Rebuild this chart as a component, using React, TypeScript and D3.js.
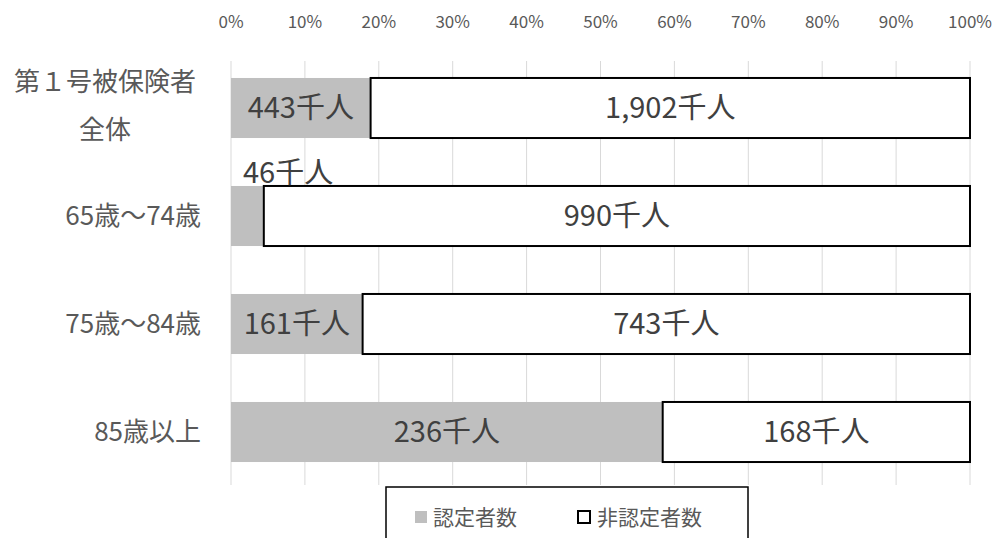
import * as d3 from "d3";

const categories = ["第１号被保険者\n全体", "65歳～74歳", "75歳～84歳", "85歳以上"];
const certified = [443, 46, 161, 236];
const nonCertified = [1902, 990, 743, 168];
const ticks = [0, 0.1, 0.2, 0.3, 0.4, 0.5, 0.6, 0.7, 0.8, 0.9, 1];
const seriesNames = ["認定者数", "非認定者数"];

const FONT = "'Noto Sans CJK JP', 'Noto Sans', sans-serif";

export default function App() {
  const width = 999,
    height = 538;

  const x = d3.scaleLinear().domain([0, 1]).range([231, 970]);
  const y = d3
    .scaleBand<string>()
    .domain(categories)
    .range([54, 486])
    .paddingInner(0.444)
    .paddingOuter(0.222);

  const fmt = d3.format(",");
  const rows = categories.map((c, i) => {
    const total = certified[i] + nonCertified[i];
    return { c, a: certified[i], b: nonCertified[i], share: certified[i] / total };
  });

  return (
    <svg
      width={width}
      height={height}
      style={{ position: "absolute", left: 0, top: 0, background: "#fff" }}
      fontFamily={FONT}
    >
      {/* grid + top tick labels */}
      {ticks.map((t) => (
        <g key={t}>
          <line x1={x(t)} x2={x(t)} y1={61} y2={485} stroke="#d9d9d9" strokeWidth={1} />
          <text x={x(t)} y={22} dy="0.36em" textAnchor="middle" fontSize={17} fill="#595959">
            {d3.format(".0%")(t)}
          </text>
        </g>
      ))}

      {rows.map((r, i) => {
        const y0 = y(r.c)!;
        const bh = y.bandwidth();
        const xm = x(r.share);
        const small = xm - x(0) < 60;
        return (
          <g key={r.c}>
            <rect x={x(0)} y={y0} width={xm - x(0)} height={bh} fill="#bfbfbf" />
            <rect
              x={xm}
              y={y0}
              width={x(1) - xm}
              height={bh}
              fill="#fff"
              stroke="#000"
              strokeWidth={2}
            />
            {small ? (
              <text x={x(0) + 12} y={y0 - 3} fontSize={29} fill="#404040">
                {fmt(r.a)}千人
              </text>
            ) : (
              <text
                x={(x(0) + xm) / 2}
                y={y0 + bh / 2}
                dy="0.36em"
                textAnchor="middle"
                fontSize={29}
                fill="#404040"
              >
                {fmt(r.a)}千人
              </text>
            )}
            <text
              x={(xm + x(1)) / 2}
              y={y0 + bh / 2}
              dy="0.36em"
              textAnchor="middle"
              fontSize={29}
              fill="#404040"
            >
              {fmt(r.b)}千人
            </text>
            {r.c.includes("\n") ? (
              <text fontSize={26} fill="#595959" textAnchor="middle">
                {r.c.split("\n").map((line, k) => (
                  <tspan key={k} x={105} y={y0 + 13 + k * 48}>
                    {line}
                  </tspan>
                ))}
              </text>
            ) : (
              <text
                x={201}
                y={y0 + bh / 2}
                dy="0.36em"
                textAnchor="end"
                fontSize={26}
                fill="#595959"
              >
                {r.c}
              </text>
            )}
          </g>
        );
      })}

      {/* legend */}
      <rect x={386} y={487} width={362} height={60} fill="#fff" stroke="#000" strokeWidth={1.5} />
      <rect x={415} y={511} width={12} height={12} fill="#bfbfbf" />
      <text x={433} y={517} dy="0.36em" fontSize={21} fill="#595959">
        {seriesNames[0]}
      </text>
      <rect x={578} y={511} width={12} height={12} fill="#fff" stroke="#000" strokeWidth={2} />
      <text x={597} y={517} dy="0.36em" fontSize={21} fill="#595959">
        {seriesNames[1]}
      </text>
    </svg>
  );
}
